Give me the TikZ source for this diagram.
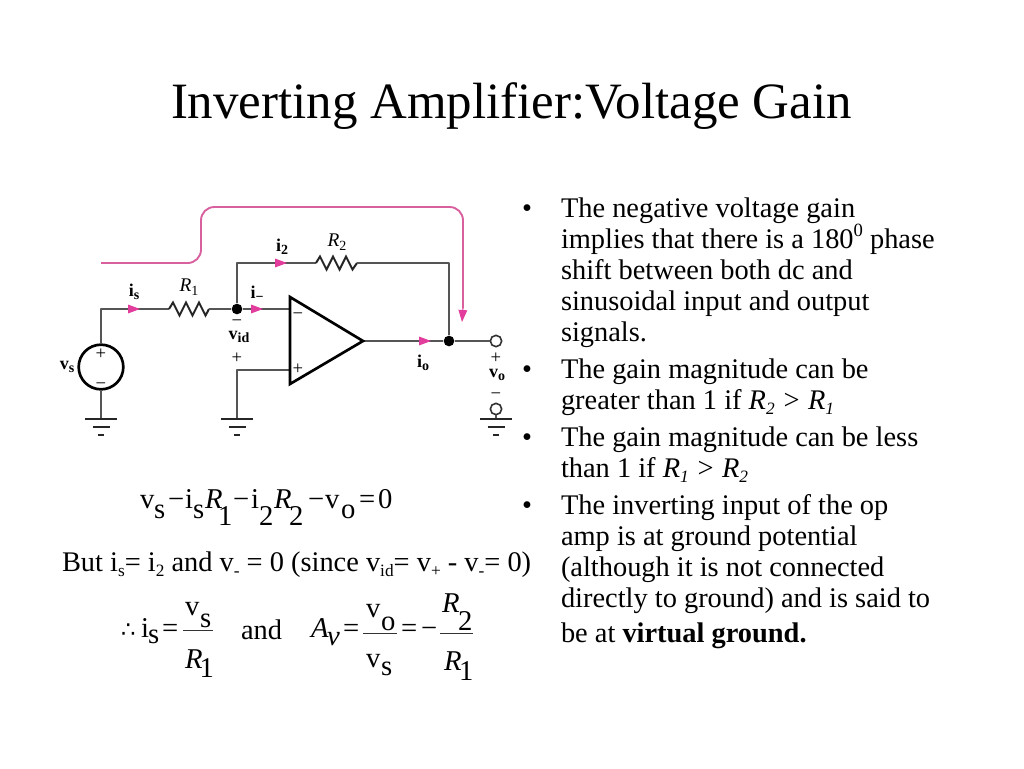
\documentclass[tikz,border=0pt]{standalone}
\usepackage{fontspec}
\usetikzlibrary{arrows.meta}
\setmainfont{Liberation Serif}
\newfontfamily\dvfont{DejaVu Sans}
\definecolor{wirec}{HTML}{555555}
\definecolor{pinkline}{HTML}{D8609E}
\definecolor{pinkhead}{HTML}{E23C9C}
\newcommand{\lowtext}[1]{\raisebox{-0.2em}{\fontsize{13pt}{13pt}\selectfont #1}}
\newcommand{\uptext}[1]{\raisebox{0.42em}{\fontsize{14pt}{14pt}\selectfont #1}}
\newcommand{\lsub}[1]{\lower2.5pt\hbox{\fontsize{10.5pt}{10.5pt}\selectfont #1}}
\tikzset{
  x=0.75pt,y=-0.75pt,
  wire/.style={draw=wirec,line width=1.25pt,line join=round},
  zig/.style={draw=black!85,line width=1.5pt,line join=miter},
  heavy/.style={draw=black,line width=2pt,line join=miter},
  gnd/.style={draw=black!85,line width=2pt},
  feedback/.style={draw=pinkline,line width=1.4pt,rounded corners=10pt},
  flow/.style={draw=pinkhead,line width=0.8pt,-{Triangle[length=9pt,width=6.5pt]}},
  txt/.style={inner sep=0pt,outer sep=0pt,anchor=base west,font=\fontsize{21.3pt}{21.3pt}\selectfont},
  ttl/.style={inner sep=0pt,outer sep=0pt,anchor=base west,font=\fontsize{38.2pt}{38.2pt}\selectfont},
  eq/.style={inner sep=0pt,outer sep=0pt,anchor=base west,font=\fontsize{21.5pt}{21.5pt}\selectfont},
  lab/.style={inner sep=0pt,outer sep=0pt,font=\fontsize{13.5pt}{13.5pt}\selectfont\bfseries},
  rlab/.style={inner sep=0pt,outer sep=0pt,font=\fontsize{14.5pt}{14.5pt}\selectfont\itshape},
  sgn/.style={inner sep=0pt,outer sep=0pt,font=\fontsize{14pt}{14pt}\selectfont},
  junction/.style={circle,fill=black,inner sep=0pt,minimum size=8pt},
  terminal/.style={circle,draw=black!80,fill=white,line width=1.2pt,inner sep=0pt,minimum size=8.5pt},
  source/.style={circle,draw=black,line width=2pt,fill=white,inner sep=0pt,minimum size=33.5pt},
  rule/.style={draw=black!80,line width=0.6pt}
}
\begin{document}
\begin{tikzpicture}
\fill[white] (0,0) rectangle (1024,768);
\useasboundingbox (0,0) rectangle (1024,768);
% title
\node[ttl] (title) at (171,118) {Inverting Amplifier:Voltage Gain};
% circuit points
\coordinate (sTop) at (101,309);
\coordinate (r1a) at (169,309);
\coordinate (r1b) at (209,309);
\coordinate (fbUp) at (237,263);
\coordinate (r2a) at (316,263);
\coordinate (r2b) at (357,263);
\coordinate (fbCorner) at (449,263);
\coordinate (inMinus) at (290,309);
\coordinate (inPlus) at (290,370);
\coordinate (plusCorner) at (237,370);
\coordinate (gnd1) at (101,419);
\coordinate (gnd2) at (237,419);
\coordinate (gnd3) at (496,419);
\coordinate (ampTop) at (290,297);
\coordinate (ampBot) at (290,384);
\coordinate (ampTip) at (363,341);
\node[junction] (nodeA) at (237,309) {};
\node[junction] (nodeB) at (449,341) {};
\node[source] (src) at (101,367) {};
\node[terminal] (out) at (496,341) {};
\node[terminal] (outGnd) at (496,409) {};
% wires
\draw[wire] (src) -- (sTop) -- (r1a);
\draw[zig] (r1a) -- ++(4,-6.5) -- ++(6.5,13) -- ++(6.5,-13) -- ++(6.5,13) -- ++(6.5,-13) -- ++(6.5,13) -- ++(3.5,-6.5) -- (r1b);
\draw[wire] (r1b) -- (nodeA) -- (inMinus);
\draw[wire] (nodeA) -- (fbUp) -- (r2a);
\draw[zig] (r2a) -- ++(4,-6.5) -- ++(6.5,13) -- ++(6.5,-13) -- ++(6.5,13) -- ++(6.5,-13) -- ++(6.5,13) -- ++(4.5,-6.5) -- (r2b);
\draw[wire] (r2b) -- (fbCorner) -- (nodeB);
\draw[wire] (ampTip) -- (nodeB) -- (out);
\draw[wire] (inPlus) -- (plusCorner) -- (gnd2);
\draw[wire] (src) -- (gnd1);
\draw[wire] (outGnd) -- (gnd3);
% op amp
\draw[heavy] (ampTop) -- (ampTip) -- (ampBot) -- cycle;
% grounds
\foreach \g in {gnd1,gnd2,gnd3}{
  \draw[gnd] (\g) ++(-16,0) -- ++(32,0);
  \draw[gnd] (\g) ++(-8.5,8) -- ++(17,0);
  \draw[gnd] (\g) ++(-3,16) -- ++(6,0);
}
% feedback annotation
\coordinate (p0) at (101,263);
\coordinate (p1) at (201,263);
\coordinate (p2) at (201,207);
\coordinate (p3) at (463,207);
\coordinate (p4) at (463,308);
\coordinate (p5) at (462,322);
\draw[feedback] (p0) -- (p1) -- (p2) -- (p3) -- (p4);
\draw[flow] (p4) -- (p5);
% current arrows
\coordinate (a1s) at (128,309); \coordinate (a1e) at (140,309);
\coordinate (a2s) at (252,309); \coordinate (a2e) at (263,309);
\coordinate (a3s) at (276,263); \coordinate (a3e) at (287,263);
\coordinate (a4s) at (419,341); \coordinate (a4e) at (431,341);
\draw[flow] (a1s) -- (a1e);
\draw[flow] (a2s) -- (a2e);
\draw[flow] (a3s) -- (a3e);
\draw[flow] (a4s) -- (a4e);
% circuit labels
\node[lab] (lis) at (134,292) {i\lsub{s}};
\node[rlab] (lr1) at (189,287) {R\lsub{\upshape 1}};
\node[lab] (lim) at (257,294) {i\lsub{\bfseries −}};
\node[lab] (li2) at (282,247) {i\lsub{2}};
\node[rlab] (lr2) at (337,242) {R\lsub{\upshape 2}};
\node[lab] (lvs) at (67,367) {v\lsub{s}};
\node[lab] (lvid) at (239,337) {v\lsub{id}};
\node[lab] (lio) at (423,363) {i\lsub{o}};
\node[lab] (lvo) at (497,375) {v\lsub{o}};
\node[sgn] (sp1) at (101,354) {+};
\node[sgn] (sm1) at (101,386) {−};
\node[sgn] (sm2) at (237,323) {−};
\node[sgn] (sp2) at (237,358) {+};
\node[sgn] (sm3) at (298,316) {−};
\node[sgn] (sp3) at (298,369) {+};
\node[sgn] (sp4) at (496,358) {+};
\node[sgn] (sm4) at (496,396) {−};
% equation 1
\node[eq] (e1) at (140,508) {v};
\node[eq] (e2) at (154,518) {s};
\node[eq] (e3) at (168,508) {−};
\node[eq] (e4) at (185,508) {i};
\node[eq] (e5) at (193,518) {s};
\node[eq] (e6) at (205,508) {\itshape R};
\node[eq] (e7) at (218,525) {1};
\node[eq] (e8) at (233,508) {−};
\node[eq] (e9) at (251,508) {i};
\node[eq] (e10) at (259,525) {2};
\node[eq] (e11) at (274,508) {\itshape R};
\node[eq] (e12) at (289,525) {2};
\node[eq] (e13) at (308,508) {−};
\node[eq] (e14) at (325,508) {v};
\node[eq] (e15) at (341,518) {o};
\node[eq] (e16) at (359,508) {=};
\node[eq] (e17) at (378,508) {0};
% line 2
\node[txt] (but) at (62,571) {But i\lowtext{s}= i\lowtext{2} and v\lowtext{-} = 0 (since v\lowtext{id}= v\lowtext{+} - v\lowtext{-}= 0)};
% equation 2
\node[eq] (f1) at (121,637) {\dvfont\fontsize{17pt}{17pt}\selectfont ∴};
\node[eq] (f2) at (141,637) {i};
\node[eq] (f3) at (148,643) {s};
\node[eq] (f4) at (162,637) {=};
\draw[rule] (183,630) -- (213,630);
\node[eq] (f5) at (185,615) {v};
\node[eq] (f6) at (200,627) {s};
\node[eq] (f7) at (185,668) {\itshape R};
\node[eq] (f8) at (199.5,677) {1};
\node[txt] (andw) at (241,639) {and};
\node[eq] (g1) at (311,637) {\itshape A};
\node[eq] (g2) at (327,645) {\itshape v};
\node[eq] (g3) at (343,637) {=};
\draw[rule] (363,633) -- (397,633);
\node[eq] (g4) at (366,617) {v};
\node[eq] (g5) at (381,630) {o};
\node[eq] (g6) at (366,667) {v};
\node[eq] (g7) at (381,675) {s};
\node[eq] (g8) at (401,637) {=};
\node[eq] (g9) at (421,637) {−};
\draw[rule] (440,633) -- (473,633);
\node[eq] (g10) at (442,612) {\itshape R};
\node[eq] (g11) at (458,630) {2};
\node[eq] (g12) at (444,670) {\itshape R};
\node[eq] (g13) at (459,680) {1};
% bullets
\foreach \n/\y in {a/217,b/378,c/446,d/514}{
  \node[txt] (bul\n) at (522,\y) {•};
}
\node[txt] (t1) at (561,217) {The negative voltage gain};
\node[txt] (t2) at (561,248) {implies that there is a 180\uptext{0} phase};
\node[txt] (t3) at (561,279) {shift between both dc and};
\node[txt] (t4) at (561,310) {sinusoidal input and output};
\node[txt] (t5) at (561,341) {signals.};
\node[txt] (t6) at (561,378) {The gain magnitude can be};
\node[txt] (t7) at (561,409) {greater than 1 if \textit{R\lowtext{\itshape 2} > R\lowtext{\itshape 1}}};
\node[txt] (t8) at (561,446) {The gain magnitude can be less};
\node[txt] (t9) at (561,477) {than 1 if \textit{R\lowtext{\itshape 1} > R\lowtext{\itshape 2}}};
\node[txt] (t10) at (561,514) {The inverting input of the op};
\node[txt] (t11) at (561,545) {amp is at ground potential};
\node[txt] (t12) at (561,576) {(although it is not connected};
\node[txt] (t13) at (561,607) {directly to ground) and is said to};
\node[txt] (t14) at (561,642) {be at \textbf{virtual ground.}};
\end{tikzpicture}
\end{document}
